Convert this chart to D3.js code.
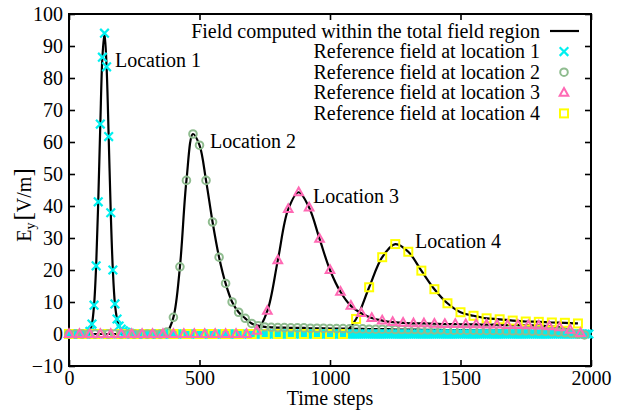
<!DOCTYPE html>
<html>
<head>
<meta charset="utf-8">
<script src="https://cdn.jsdelivr.net/npm/d3@7"></script>
<style>
  body { margin: 0; background: #fff; }
  text { font-family: "Liberation Serif", "Times New Roman", serif; font-size: 20px; fill: #000; }
</style>
</head>
<body>
<div id="chart"></div>
<script>
// sampling interval (time steps) of each reference series
var stepLoc1 = 8, stepLoc2 = 25, stepLoc3 = 40, stepLoc4 = 50;

// reference field at location 1 (every 8 steps, t = 0 .. 1992)
var loc1 = [
  0,0,0,0,0,0,0,0,0,0,
  0.8,3.1,9,21.3,41.3,65.6,86.5,94,83.5,61.7,
  37.9,20,9.4,4.7,2.5,1.5,1,0.6,0.4,0.2,
  0,0,0,0,0,0,0,0,0,0,0,0,0,0,0,0,0,0,0,0,
  0,0,0,0,0,0,0,0,0,0,0,0,0,0,0,0,0,0,0,0,
  0,0,0,0,0,0,0,0,0,0,0,0,0,0,0,0,0,0,0,0,
  0,0,0,0,0,0,0,0,0,0,0,0,0,0,0,0,0,0,0,0,
  0,0,0,0,0,0,0,0,0,0,0,0,0,0,0,0,0,0,0,0,
  0,0,0,0,0,0,0,0,0,0,0,0,0,0,0,0,0,0,0,0,
  0,0,0,0,0,0,0,0,0,0,0,0,0,0,0,0,0,0,0,0,
  0,0,0,0,0,0,0,0,0,0,0,0,0,0,0,0,0,0,0,0,
  0,0,0,0,0,0,0,0,0,0,0,0,0,0,0,0,0,0,0,0,
  0,0,0,0,0,0,0,0,0,0,0,0,0,0,0,0,0,0,0,0,
  0,0,0,0,0,0,0,0,0,0,0,0,0,0,0,0,0,0,0,0
];

// reference field at location 2 (every 25 steps, t = 0 .. 1975)
var loc2 = [
  0,0,0,0,0,0,0,0,0,0,0,0,0,0,0,
  0.6,5.2,21,48,62.5,59,48,35,24,15.8,10,6.8,4.9,3.3,2.6,2.2,2.1,2.0,
  2.0,1.9,1.9,1.9,1.8,1.8,1.8,1.7,1.7,1.7,
  1.6,1.6,1.6,1.5,1.5,1.5,1.5,1.4,1.4,1.4,
  1.4,1.3,1.3,1.3,1.3,1.2,1.2,1.2,1.2,1.2,
  1.1,1.1,1.1,1.1,1.0,1.0,1.0,1.0,0.9,0.9,
  0.8,0.7,0.6,0.4,0.2,0,-0.3
];

// reference field at location 3 (every 40 steps, t = 0 .. 1960)
var loc3 = [
  0,0,0,0,0,0,0,0,0,0,0,0,0,0,0,0,0,0,
  1.0,7.2,23,39,44.3,39.5,29.7,20,13.2,8.8,6.5,5.0,
  4.2,3.7,3.5,3.3,3.3,3.2,3.1,3.1,3.0,3.0,
  2.9,2.9,2.8,2.8,2.7,2.6,2.4,2.1,1.3,0.3
];

// reference field at location 4 (every 50 steps, t = 0 .. 1950)
var loc4 = [
  0,0,0,0,0,0,0,0,0,0,0,0,0,0,0,0,0,0,0,0,0,0,
  4.7,14.6,24,28.1,25.7,19.8,14,9.6,6.8,5.7,
  4.9,4.6,4.2,3.9,3.8,3.6,3.5,3.3
];

var xTicks = [0, 500, 1000, 1500, 2000];
var yTicks = [-10, 0, 10, 20, 30, 40, 50, 60, 70, 80, 90, 100];

var legendLabels = [
  "Field computed within the total field region",
  "Reference field at location 1",
  "Reference field at location 2",
  "Reference field at location 3",
  "Reference field at location 4"
];
var peakLabels = ["Location 1", "Location 2", "Location 3", "Location 4"];

function toPoints(vals, step) {
  return vals.map(function(v, i) { return {t: i * step, v: v}; });
}

var series = [
  {pts: toPoints(loc1, stepLoc1), color: "#00f0f0", shape: "x"},
  {pts: toPoints(loc4, stepLoc4), color: "#ffff00", shape: "square"},
  {pts: toPoints(loc2, stepLoc2), color: "#8fbc8f", shape: "circle"},
  {pts: toPoints(loc3, stepLoc3), color: "#ff69b4", shape: "triangle"}
];

var margin = {top: 14, right: 44, bottom: 47, left: 69},
    width = 635 - margin.left - margin.right,
    height = 413 - margin.top - margin.bottom;

var svg = d3.select("#chart")
  .append("svg")
    .attr("width", 635)
    .attr("height", 413)
  .append("g")
    .attr("transform", "translate(" + margin.left + "," + margin.top + ")");

var x = d3.scaleLinear().domain([0, 2000]).range([0, width]);
var y = d3.scaleLinear().domain([-10, 100]).range([height, 0]);

// axes with inward ticks on all four sides
svg.append("g")
  .attr("transform", "translate(0," + height + ")")
  .call(d3.axisBottom(x).tickValues(xTicks).tickFormat(d3.format("d"))
    .tickSizeInner(-6).tickSizeOuter(0).tickPadding(5));
svg.append("g")
  .call(d3.axisTop(x).tickValues(xTicks).tickSizeInner(-6).tickSizeOuter(0).tickFormat(""));
svg.append("g")
  .call(d3.axisLeft(y).tickValues(yTicks).tickFormat(d3.format("d"))
    .tickSizeInner(-6).tickSizeOuter(0).tickPadding(6));
svg.append("g")
  .attr("transform", "translate(" + width + ",0)")
  .call(d3.axisRight(y).tickValues(yTicks).tickSizeInner(-6).tickSizeOuter(0).tickFormat(""));

svg.selectAll(".domain").remove();
svg.selectAll(".tick line").attr("stroke", "#000").attr("stroke-width", 1.6);
svg.selectAll(".tick text")
  .style("font-family", "'Liberation Serif', serif")
  .style("font-size", "20px")
  .attr("fill", "#000");

svg.append("rect")
  .attr("width", width)
  .attr("height", height)
  .attr("fill", "none")
  .attr("stroke", "#000")
  .attr("stroke-width", 2);

// computed field (black line) for each location
var line = d3.line()
  .x(function(d) { return x(d.t); })
  .y(function(d) { return y(d.v); })
  .curve(d3.curveCatmullRom.alpha(0.5));

[loc1, loc2, loc3, loc4].forEach(function(vals, k) {
  var step = [stepLoc1, stepLoc2, stepLoc3, stepLoc4][k];
  svg.append("path")
    .datum(toPoints(vals, step))
    .attr("d", line)
    .attr("fill", "none")
    .attr("stroke", "#000")
    .attr("stroke-width", 2.2);
});

function drawMarker(g, shape, color) {
  if (shape == "x") {
    g.append("path").attr("d", "M-4.3,-4.3L4.3,4.3M-4.3,4.3L4.3,-4.3")
      .attr("stroke", color).attr("stroke-width", 2.2).attr("fill", "none");
  } else if (shape == "circle") {
    g.append("circle").attr("r", 3.8)
      .attr("stroke", color).attr("stroke-width", 2).attr("fill", "none");
  } else if (shape == "triangle") {
    g.append("path").attr("d", "M0,-4.8L4.3,2.9L-4.3,2.9Z")
      .attr("stroke", color).attr("stroke-width", 2).attr("fill", "none");
  } else {
    g.append("rect").attr("x", -4).attr("y", -4).attr("width", 8).attr("height", 8)
      .attr("stroke", color).attr("stroke-width", 2).attr("fill", "none");
  }
}

series.forEach(function(s) {
  svg.append("g").selectAll("g")
    .data(s.pts)
    .enter()
    .append("g")
      .attr("transform", function(d) { return "translate(" + x(d.t) + "," + y(d.v) + ")"; })
      .each(function() { drawMarker(d3.select(this), s.shape, s.color); });
});

// peak labels
var labelPos = [[115, 67], [210, 148], [313, 203], [415, 248]];
peakLabels.forEach(function(t, i) {
  svg.append("text")
    .attr("x", labelPos[i][0] - margin.left)
    .attr("y", labelPos[i][1] - margin.top)
    .text(t);
});

// legend
var legendKeys = [null, ["x", "#00f0f0"], ["circle", "#8fbc8f"], ["triangle", "#ff69b4"], ["square", "#ffff00"]];
legendLabels.forEach(function(t, i) {
  var by = 37.5 + i * 20.6 - margin.top;
  svg.append("text")
    .attr("x", 540 - margin.left)
    .attr("y", by)
    .attr("text-anchor", "end")
    .text(t);
  var cy = by - 6.5;
  if (i == 0) {
    svg.append("line")
      .attr("x1", 550 - margin.left).attr("x2", 579 - margin.left)
      .attr("y1", cy).attr("y2", cy)
      .attr("stroke", "#000").attr("stroke-width", 2.2);
  } else {
    var g = svg.append("g").attr("transform", "translate(" + (564 - margin.left) + "," + cy + ")");
    drawMarker(g, legendKeys[i][0], legendKeys[i][1]);
  }
});

// axis titles
svg.append("text")
  .attr("x", width / 2)
  .attr("y", 405 - margin.top)
  .attr("text-anchor", "middle")
  .text("Time steps");

var yl = svg.append("text")
  .attr("transform", "translate(" + (31 - margin.left) + "," + (205 - margin.top) + ") rotate(-90)")
  .attr("text-anchor", "middle");
yl.append("tspan").text("E");
yl.append("tspan").attr("dy", 4).style("font-size", "14px").text("y");
yl.append("tspan").attr("dy", -4).attr("dx", 2).style("font-size", "25px").text("[");
yl.append("tspan").text("V/m");
yl.append("tspan").style("font-size", "25px").text("]");
</script>
</body>
</html>
